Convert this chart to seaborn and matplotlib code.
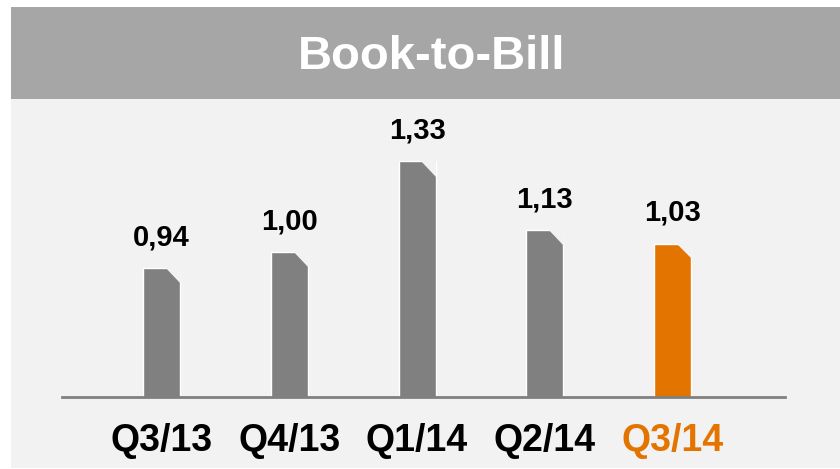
import numpy as np
import pandas as pd
import matplotlib
matplotlib.use("Agg")
import matplotlib.pyplot as plt
import seaborn as sns
from matplotlib.patches import Rectangle, Polygon

quarters = ["Q3/13", "Q4/13", "Q1/14", "Q2/14", "Q3/14"]
bar_heights = [0.94, 1.00, 1.33, 1.08, 1.03]
value_labels = ["0,94", "1,00", "1,33", "1,13", "1,03"]
bar_colors = ["#808080", "#808080", "#808080", "#808080", "#e37400"]
label_colors = ["black", "black", "black", "black", "#e37400"]

BG = "#f2f2f2"
BANNER = "#a6a6a6"

sns.set_style("white")
plt.rcParams['font.family'] = ['Liberation Sans', 'DejaVu Sans']

fig = plt.figure(figsize=(8.4, 4.69), dpi=100)
fig.patch.set_facecolor("white")

# background panels
fig.add_artist(Rectangle((11 / 840, 1 / 469), 1, (469 - 99) / 469, transform=fig.transFigure,
                         facecolor=BG, edgecolor="none", zorder=0))
fig.add_artist(Rectangle((11 / 840, (469 - 99) / 469), 1, 92 / 469, transform=fig.transFigure,
                         facecolor=BANNER, edgecolor="none", zorder=0))
fig.text(0.514, 0.878, "Book-to-Bill", color="white", fontsize=34, fontweight="bold",
         ha="center", va="center")

ax = fig.add_axes([62 / 840, 72 / 469, 723 / 840, 287 / 469])
ax.patch.set_alpha(0)

df = pd.DataFrame({"quarter": quarters, "value": bar_heights})
sns.barplot(data=df, x="quarter", y="value", hue="quarter", palette=bar_colors,
            legend=False, width=0.29, saturation=1, ax=ax)

ax.set_xlim(-0.78, 4.88)
ax.set_ylim(0.47, 0.47 + 287 / 274)

# cut the top-right corner of every bar
cut_x, cut_y = 0.133, 0.058
for p in ax.patches:
    x0 = p.get_x()
    x1 = x0 + p.get_width()
    top = p.get_height()
    ax.add_patch(Polygon([(x1 - cut_x, top + 0.01), (x1 + 0.005, top + 0.01), (x1 + 0.005, top - cut_y)],
                         closed=True, facecolor=BG, edgecolor="none", zorder=5))

for cont, lab in zip(ax.containers, value_labels):
    ax.bar_label(cont, labels=[lab], padding=12, fontsize=21, fontweight="bold", color="black")

for s in ["top", "left", "right"]:
    ax.spines[s].set_visible(False)
ax.spines["bottom"].set_color("#808080")
ax.spines["bottom"].set_linewidth(2)
ax.set_yticks([])
ax.set_xlabel("")
ax.set_ylabel("")
ax.tick_params(axis="x", length=0, pad=19)
ax.set_xticks(range(len(quarters)))
ax.set_xticklabels(quarters, fontsize=27, fontweight="bold")
for t, c in zip(ax.get_xticklabels(), label_colors):
    t.set_color(c)

fig.savefig("out.png", dpi=100)
